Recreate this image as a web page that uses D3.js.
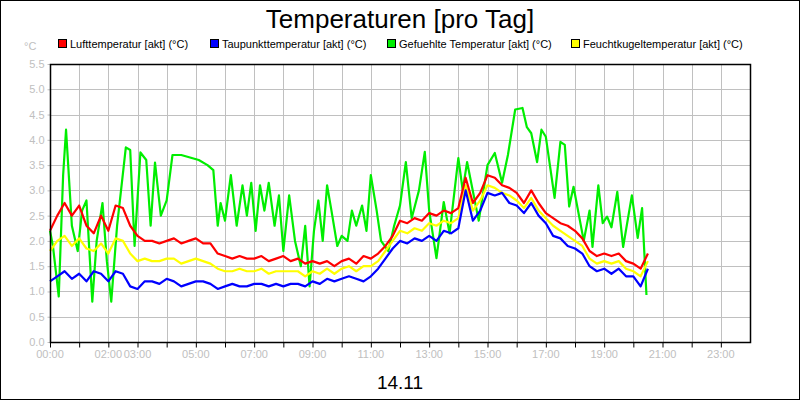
<!DOCTYPE html>
<html><head><meta charset="utf-8">
<script src="https://cdn.jsdelivr.net/npm/d3@7"></script>
<style>body{margin:0;background:#fff}svg{display:block;font-family:"Liberation Sans",Arial,sans-serif}</style>
</head><body><svg id="c" width="800" height="400"></svg>
<script>
const seriesNames = ['Lufttemperatur [akt] (°C)', 'Taupunkttemperatur [akt] (°C)', 'Gefuehlte Temperatur [akt] (°C)', 'Feuchtkugeltemperatur [akt] (°C)'];
const seriesColors = ['#ff0000', '#0000ff', '#00ee00', '#ffff00'];
const xTickLabels = ['00:00', '02:00', '03:00', '05:00', '07:00', '09:00', '11:00', '13:00', '15:00', '17:00', '19:00', '21:00', '23:00'];
const xTickHours = [0, 2, 3, 5, 7, 9, 11, 13, 15, 17, 19, 21, 23];
const yTicks = [0, 0.5, 1, 1.5, 2, 2.5, 3, 3.5, 4, 4.5, 5, 5.5];

// 15-minute samples, 00:00 .. 20:30
const hours = d3.range(0, 20.51, 0.25);
const luft = [2.2,2.5,2.75,2.5, 2.7,2.3,2.15,2.5, 2.2,2.7,2.65,2.3, 2.1,2.0,2.0,1.95,
  2.0,2.05,1.95,2.0, 2.05,1.95,1.95,1.75, 1.7,1.65,1.7,1.65, 1.65,1.7,1.6,1.65,
  1.7,1.6,1.65,1.55, 1.6,1.55,1.6,1.5, 1.6,1.65,1.55,1.7, 1.65,1.75,1.9,2.1,
  2.4,2.35,2.45,2.4, 2.55,2.5,2.6,2.55, 2.65,3.25,2.75,2.95, 3.3,3.25,3.1,3.05,
  2.95,2.75,3.0,2.75, 2.55,2.45,2.35,2.3, 2.2,2.05,1.8,1.7, 1.75,1.7,1.75,1.6,
  1.55,1.45,1.75];
const taupunkt = [1.2,1.3,1.4,1.25, 1.35,1.2,1.4,1.35, 1.2,1.4,1.35,1.1, 1.05,1.2,1.2,1.15,
  1.25,1.2,1.1,1.15, 1.2,1.2,1.15,1.05, 1.1,1.15,1.1,1.1, 1.15,1.15,1.1,1.15,
  1.1,1.15,1.15,1.1, 1.2,1.15,1.25,1.2, 1.25,1.3,1.25,1.2, 1.3,1.45,1.65,1.85,
  2.0,1.95,2.05,2.0, 2.1,2.0,2.2,2.15, 2.25,3.0,2.4,2.6, 2.95,2.9,2.95,2.75,
  2.7,2.55,2.75,2.5, 2.35,2.1,2.05,1.9, 1.85,1.75,1.5,1.4, 1.45,1.35,1.45,1.3,
  1.3,1.1,1.45];
const feuchtkugel = [1.8,2.0,2.1,1.9, 2.05,1.85,1.8,1.95, 1.75,2.05,2.0,1.75, 1.6,1.65,1.6,1.6,
  1.65,1.65,1.55,1.6, 1.65,1.6,1.55,1.45, 1.4,1.4,1.45,1.4, 1.4,1.45,1.35,1.4,
  1.4,1.4,1.4,1.3, 1.4,1.35,1.45,1.35, 1.45,1.5,1.4,1.5, 1.5,1.6,1.8,2.0,
  2.2,2.15,2.25,2.2, 2.35,2.3,2.4,2.35, 2.45,3.1,2.6,2.8, 3.1,3.05,2.95,2.9,
  2.8,2.65,2.85,2.6, 2.45,2.3,2.2,2.1, 2.0,1.9,1.65,1.55, 1.6,1.55,1.6,1.45,
  1.4,1.3,1.6];
// irregular samples for the gusty felt temperature
const gefHours = [0,0.1,0.3,0.45,0.55,0.75,0.95,1.1,1.25,1.45,1.6,1.8,1.95,2.1,2.3,2.6,2.75,2.9,3.1,3.3,
  3.45,3.6,3.8,4.0,4.2,4.5,4.8,5.1,5.4,5.6,5.75,5.85,6.0,6.2,6.4,6.6,6.75,6.9,7.05,7.2,
  7.35,7.5,7.7,7.85,8.0,8.2,8.4,8.6,8.75,8.9,9.05,9.2,9.35,9.5,9.65,9.85,10.0,10.2,10.35,10.5,
  10.7,10.85,11.0,11.2,11.35,11.6,11.8,12.0,12.2,12.4,12.65,12.85,13.0,13.25,13.5,13.7,14.0,14.15,14.3,14.7,
  15.0,15.25,15.5,15.7,15.95,16.2,16.35,16.5,16.7,16.85,17.0,17.3,17.5,17.65,17.8,17.95,18.3,18.5,18.6,18.8,
  18.95,19.1,19.25,19.45,19.65,19.95,20.15,20.3,20.45];
const gefuehlt = [2.2,1.9,0.9,3.3,4.2,2.3,1.8,2.6,2.8,0.8,2.0,2.75,1.6,0.8,2.3,3.85,3.8,1.9,3.75,3.6,
  2.3,3.55,2.5,2.8,3.7,3.7,3.65,3.6,3.5,3.4,2.3,2.75,2.4,3.3,2.3,3.1,2.5,3.15,2.2,3.1,
  2.6,3.15,2.3,2.9,1.8,2.9,2.0,1.5,2.3,1.1,2.2,2.8,2.0,3.1,2.6,1.9,2.1,2.0,2.6,2.3,
  2.7,2.2,3.3,2.6,2.0,1.8,2.3,2.7,3.56,2.45,3.0,3.76,2.6,1.66,2.77,2.15,3.64,3.0,3.56,2.4,
  3.5,3.74,3.15,3.7,4.6,4.63,4.25,4.13,3.56,4.2,4.06,2.85,3.96,3.9,2.68,3.07,2.0,2.6,1.88,3.1,
  2.35,2.48,2.27,2.97,1.88,2.9,2.06,2.65,0.93];

const svg = d3.select('#c');
const m = {left: 50, right: 750, top: 64, bottom: 342};
const x = d3.scaleLinear().domain([0, 24]).range([m.left, m.right]);
const y = d3.scaleLinear().domain([0, 5.5]).range([m.bottom, m.top]);

svg.append('rect').attr('x', 0.5).attr('y', 0.5).attr('width', 799).attr('height', 399)
  .attr('fill', '#fff').attr('stroke', '#000');

svg.append('text').attr('x', 400).attr('y', 28).attr('text-anchor', 'middle')
  .attr('font-size', 26).text('Temperaturen [pro Tag]');

// Legend
const legX = [58, 210, 387, 571];
seriesNames.forEach((n, i) => {
  svg.append('rect').attr('x', legX[i] + 0.5).attr('y', 39.5).attr('width', 8).attr('height', 8)
    .attr('fill', seriesColors[i]).attr('stroke', '#000');
  svg.append('text').attr('x', legX[i] + 12).attr('y', 48).attr('font-size', 11).text(n);
});

// Grid
const grid = svg.append('g').attr('stroke', '#c0c0c0').attr('stroke-width', 1);
d3.range(1, 24).forEach(h => grid.append('line').attr('x1', Math.round(x(h)) + 0.5).attr('x2', Math.round(x(h)) + 0.5)
  .attr('y1', m.top).attr('y2', m.bottom));
yTicks.slice(1).forEach(v => grid.append('line').attr('x1', m.left).attr('x2', m.right)
  .attr('y1', Math.round(y(v)) + 0.5).attr('y2', Math.round(y(v)) + 0.5));

// Axes
const yAxis = svg.append('g').attr('transform', `translate(${m.left + 0.5},0)`)
  .call(d3.axisLeft(y).tickValues(yTicks).tickFormat(d3.format('.1f')).tickSize(3));
yAxis.select('.domain').remove();
yAxis.selectAll('line').attr('stroke', '#c0c0c0');
yAxis.selectAll('text').attr('fill', '#c0c0c0').attr('font-size', 11)
  .attr('font-family', '"Liberation Sans",Arial,sans-serif');

const xAxis = svg.append('g').attr('transform', `translate(0,${m.bottom + 0.5})`)
  .call(d3.axisBottom(x).tickValues(d3.range(0, 24)).tickFormat('').tickSize(5));
xAxis.select('.domain').remove();
xAxis.selectAll('line').attr('stroke', '#000');
xTickHours.forEach((h, i) => svg.append('text').attr('x', x(h)).attr('y', 358)
  .attr('text-anchor', 'middle').attr('font-size', 11).attr('fill', '#c0c0c0').text(xTickLabels[i]));

svg.append('text').attr('x', 24).attr('y', 50).attr('font-size', 11).attr('fill', '#c0c0c0').text('°C');

// Lines
const line = d3.line().x(d => x(d[0])).y(d => y(d[1]));
const plot = svg.append('g').attr('fill', 'none').attr('stroke-width', 2.2).attr('stroke-linejoin', 'round');
plot.append('path').attr('d', line(gefHours.map((h, i) => [h, gefuehlt[i]]))).attr('stroke', seriesColors[2]);
plot.append('path').attr('d', line(hours.map((h, i) => [h, feuchtkugel[i]]))).attr('stroke', seriesColors[3]);
plot.append('path').attr('d', line(hours.map((h, i) => [h, taupunkt[i]]))).attr('stroke', seriesColors[1]);
plot.append('path').attr('d', line(hours.map((h, i) => [h, luft[i]]))).attr('stroke', seriesColors[0]);

// Frame
svg.append('rect').attr('x', m.left + 0.5).attr('y', m.top + 0.5).attr('width', m.right - m.left)
  .attr('height', m.bottom - m.top).attr('fill', 'none').attr('stroke', '#000').attr('stroke-width', 1.5);

svg.append('text').attr('x', 400).attr('y', 389).attr('text-anchor', 'middle').attr('font-size', 19).text('14.11');
</script></body></html>
